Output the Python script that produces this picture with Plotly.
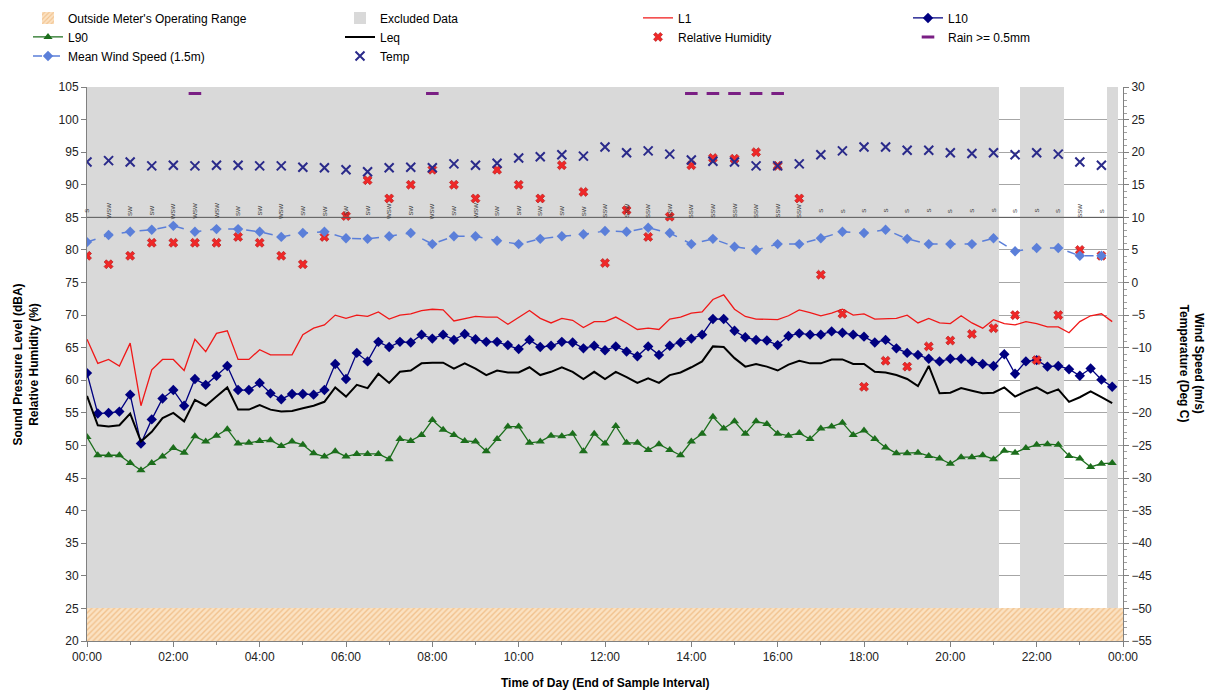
import pandas as pd
import plotly.graph_objects as go

# ---------------------------------------------------------------- data
DAY = "2024-01-01"

# 15-minute noise statistics, 00:00 .. 23:45 (dBA)
L1 = [66.3, 62.6, 63.2, 62.2, 65.7, 56.1, 61.6, 63.2, 63.2, 61.5, 66.3, 64.4,
      67.2, 67.6, 63.2, 63.2, 64.7, 63.9, 63.9, 63.9, 67.0, 68.0, 68.5, 70.0,
      69.5, 70.0, 69.8, 70.5, 69.4, 70.0, 70.2, 70.7, 70.9, 70.8, 69.1, 69.5,
      69.8, 69.7, 69.7, 68.6, 69.7, 70.7, 69.5, 68.8, 69.5, 69.2, 68.1, 69.0,
      69.0, 69.7, 68.8, 67.8, 68.0, 67.8, 69.4, 69.7, 70.3, 70.5, 72.4, 73.1,
      70.9, 69.8, 69.4, 69.3, 69.3, 69.9, 70.8, 70.4, 69.9, 70.3, 70.9, 70.0,
      70.2, 69.4, 69.4, 69.5, 70.0, 68.8, 69.5, 68.8, 68.7, 69.9, 68.8, 68.0,
      69.3, 68.7, 68.5, 69.0, 68.7, 68.2, 68.2, 67.3, 69.0, 69.9, 70.2, 69.0]

L10 = [61.1, 54.9, 55.0, 55.2, 57.8, 50.3, 54.0, 57.2, 58.5, 56.1, 60.2, 59.3,
       60.7, 62.2, 58.5, 58.5, 59.6, 58.0, 57.1, 57.9, 57.9, 57.8, 58.5, 62.5,
       60.2, 64.2, 62.9, 65.9, 65.1, 65.9, 65.8, 67.0, 66.4, 67.0, 66.2, 67.1,
       66.3, 65.9, 65.9, 65.4, 64.8, 66.2, 65.1, 65.3, 65.9, 65.8, 64.9, 65.3,
       64.6, 65.2, 64.4, 63.7, 65.2, 63.9, 65.3, 65.8, 66.4, 67.0, 69.4, 69.4,
       67.6, 66.6, 66.2, 66.1, 65.4, 66.8, 67.2, 67.0, 67.0, 67.5, 67.3, 67.0,
       66.7, 65.8, 66.2, 64.9, 64.2, 63.9, 63.3, 62.9, 63.3, 63.3, 62.9, 62.5,
       62.2, 64.0, 61.0, 62.9, 63.1, 62.1, 62.2, 61.7, 60.7, 61.8, 60.1, 59.0]

L90 = [51.3, 48.5, 48.5, 48.5, 47.3, 46.2, 47.3, 48.3, 49.6, 48.9, 51.4, 50.6,
       51.5, 52.5, 50.3, 50.4, 50.7, 50.8, 49.9, 50.6, 50.1, 48.8, 48.3, 49.1,
       48.3, 48.7, 48.7, 48.7, 47.9, 51.0, 50.7, 51.6, 53.9, 52.4, 51.6, 50.7,
       50.6, 49.1, 51.0, 52.9, 52.9, 50.4, 50.6, 51.5, 51.4, 51.8, 49.1, 51.8,
       50.3, 53.0, 50.4, 50.4, 49.3, 50.2, 49.3, 48.5, 50.6, 51.8, 54.4, 52.6,
       53.7, 51.8, 53.7, 53.3, 51.8, 51.5, 51.9, 51.0, 52.6, 52.9, 53.5, 51.6,
       52.3, 51.0, 49.7, 48.8, 48.8, 48.9, 48.4, 48.0, 47.2, 48.2, 48.2, 48.5,
       47.9, 49.2, 48.9, 49.6, 50.1, 50.2, 50.1, 48.4, 48.0, 46.7, 47.2, 47.3]

LEQ = [57.6, 53.1, 52.9, 53.1, 54.9, 50.6, 52.1, 54.2, 55.0, 53.7, 57.0, 56.1,
       57.5, 58.9, 55.5, 55.5, 56.2, 55.5, 55.2, 55.3, 55.7, 56.1, 56.7, 58.9,
       57.5, 59.3, 58.8, 61.0, 59.6, 61.3, 61.5, 62.6, 62.7, 62.7, 61.8, 62.6,
       61.8, 60.8, 61.5, 61.2, 61.2, 62.0, 60.8, 61.3, 62.0, 61.3, 60.2, 61.3,
       60.2, 61.3, 60.5, 59.6, 60.3, 59.6, 60.8, 61.2, 62.0, 62.9, 65.2, 65.1,
       63.4, 62.1, 62.5, 62.1, 61.5, 62.4, 63.0, 62.6, 62.6, 63.2, 63.2, 62.5,
       62.5, 61.3, 61.2, 60.8, 60.2, 59.1, 62.2, 58.0, 58.1, 58.8, 58.4, 58.0,
       58.1, 58.9, 57.5, 58.3, 58.9, 58.0, 58.6, 56.7, 57.4, 58.3, 57.4, 56.5]

# 30-minute weather readings, 00:00 .. 23:30
REL_HUMIDITY = [79.1, 77.8, 79.1, 81.1, 81.1, 81.1, 81.1, 82.0, 81.1, 79.1,
                77.8, 82.0, 85.2, 90.7, 87.9, 90.0, 92.3, 90.0, 87.9, 92.3,
                90.0, 87.9, 93.0, 88.9, 78.0, 86.1, 82.0, 85.1, 93.0, 94.1,
                94.0, 95.0, 92.9, 87.9, 76.2, 70.2, 59.0, 63.0, 62.1, 65.2,
                66.1, 67.1, 68.0, 70.0, 63.1, 70.0, 80.0, 79.1]          # %

WIND_SPEED = [6.2, 7.3, 7.8, 8.1, 8.7, 7.8, 8.2, 8.2, 7.8, 7.0, 7.6, 7.8,
              6.8, 6.7, 7.1, 7.6, 5.9, 7.1, 7.1, 6.4, 5.9, 6.7, 7.1, 7.4,
              7.9, 7.8, 8.4, 7.6, 5.9, 6.7, 5.5, 5.0, 5.9, 5.9, 6.8, 7.8,
              7.6, 8.1, 6.7, 5.9, 5.9, 5.9, 6.8, 4.8, 5.3, 5.3, 4.1, 4.1]  # m/s

TEMPERATURE = [18.5, 18.7, 18.5, 17.9, 18.0, 17.9, 18.0, 18.0, 17.9, 17.9,
               17.7, 17.6, 17.3, 17.0, 17.6, 17.7, 17.6, 18.2, 18.0, 18.3,
               19.1, 19.3, 19.6, 19.4, 20.8, 19.9, 20.2, 19.7, 18.8, 18.6,
               18.5, 17.9, 17.9, 18.2, 19.6, 20.2, 20.8, 20.8, 20.3, 20.3,
               19.9, 19.8, 19.9, 19.6, 19.9, 19.7, 18.5, 18.0]           # deg C

WIND_DIRECTION = ["S", "WSW", "SW", "SW", "WSW", "WSW", "WSW", "SW", "SW", "WSW",
                  "SW", "SW", "SW", "SW", "WSW", "SW", "WSW", "SW", "WSW", "SW",
                  "SW", "SW", "SW", "SW", "SSW", "SSW", "SSW", "SSW", "SSW", "SSW",
                  "SSW", "SSW", "SSW", "SSW", "S", "S", "S", "S", "S", "S",
                  "S", "S", "S", "S", "S", "S", "SSW", "S"]

RAIN_TIMES = ["02:30", "08:00", "14:00", "14:30", "15:00", "15:30", "16:00"]   # >= 0.5 mm

EXCLUDED_PERIODS = [("00:00", "21:00"), ("21:45", "22:30"), ("23:45", "23:45")]

METER_FLOOR = 25          # dBA, lower limit of the meter's operating range
AXIS_MIN, AXIS_MAX = 20, 105
RIGHT_OFFSET = 75         # right axis = left axis - 75
RAIN_LEVEL = 29           # plotting level of rain markers (right axis)
DIR_LABEL_LEVEL = 10      # plotting level of wind direction labels (right axis)

# ---------------------------------------------------------------- derived
t15 = pd.date_range(f"{DAY} 00:00", periods=len(L10), freq="15min")
t30 = pd.date_range(f"{DAY} 00:00", periods=len(WIND_SPEED), freq="30min")
rain_t = pd.to_datetime([f"{DAY} {t}" for t in RAIN_TIMES])

excluded_t = []
for start, end in EXCLUDED_PERIODS:
    excluded_t += list(pd.date_range(f"{DAY} {start}", f"{DAY} {end}", freq="15min"))

STEP_MS = 15 * 60 * 1000
DAY_START = pd.Timestamp(f"{DAY} 00:00")
DAY_END = DAY_START + pd.Timedelta(days=1)

FONT = "Arial, Liberation Sans, sans-serif"

fig = go.Figure()

# Operating range band
fig.add_trace(go.Bar(
    x=[DAY_START + (DAY_END - DAY_START) / 2], y=[METER_FLOOR - AXIS_MIN],
    base=[AXIS_MIN], width=[(DAY_END - DAY_START).total_seconds() * 1000],
    name="Outside Meter's Operating Range", legend="legend",
    marker=dict(color="#FAD9B0", line_width=0,
                pattern=dict(shape="/", fgcolor="#E8A15A", bgcolor="#FBE2C2",
                             size=4, solidity=0.35)),
    hoverinfo="skip"))

# Excluded intervals
fig.add_trace(go.Bar(
    x=excluded_t, y=[AXIS_MAX - METER_FLOOR] * len(excluded_t),
    base=[METER_FLOOR] * len(excluded_t), width=[STEP_MS * 1.02] * len(excluded_t),
    name="Excluded Data", legend="legend2",
    marker=dict(color="#D9D9D9", line_width=0)))

fig.add_trace(go.Scatter(x=t15, y=L1, name="L1", mode="lines", legend="legend3",
                         line=dict(color="#F01818", width=1.3)))
fig.add_trace(go.Scatter(x=t15, y=L10, name="L10", mode="lines+markers", legend="legend4",
                         line=dict(color="#000080", width=1.3),
                         marker=dict(symbol="diamond", size=8, color="#000080")))
fig.add_trace(go.Scatter(x=t15, y=L90, name="L90", mode="lines+markers", legend="legend",
                         line=dict(color="#1C6E1C", width=1.3),
                         marker=dict(symbol="triangle-up", size=8, color="#1C6E1C")))
fig.add_trace(go.Scatter(x=t15, y=LEQ, name="Leq", mode="lines", legend="legend2",
                         line=dict(color="#000000", width=2)))
fig.add_trace(go.Scatter(x=t30, y=REL_HUMIDITY, name="Relative Humidity", mode="markers",
                         legend="legend3",
                         marker=dict(symbol="x", size=8, color="#F02828",
                                     line=dict(width=0.6, color="#B01010"))))
fig.add_trace(go.Scatter(x=rain_t, y=[RAIN_LEVEL] * len(rain_t), name="Rain >= 0.5mm",
                         mode="markers", yaxis="y2", legend="legend4",
                         marker=dict(symbol="line-ew", size=9,
                                     line=dict(width=3, color="#7A1F84"))))
fig.add_trace(go.Scatter(x=t30, y=WIND_SPEED, name="Mean Wind Speed (1.5m)",
                         mode="lines+markers", yaxis="y2", legend="legend",
                         line=dict(color="#5B7FD9", width=1.5, dash="dash"),
                         marker=dict(symbol="diamond", size=8, color="#5B7FD9")))
fig.add_trace(go.Scatter(x=t30, y=TEMPERATURE, name="Temp", mode="markers", yaxis="y2",
                         legend="legend2",
                         marker=dict(symbol="x-thin", size=9,
                                     line=dict(width=2, color="#2A2A8A"))))

# Wind direction reference line
fig.add_trace(go.Scatter(x=[DAY_START, DAY_END], y=[DIR_LABEL_LEVEL] * 2, yaxis="y2",
                         mode="lines", line=dict(color="#555555", width=1),
                         showlegend=False, hoverinfo="skip"))

annotations = []
for t, d in zip(t30, WIND_DIRECTION):
    annotations.append(dict(x=t, y=DIR_LABEL_LEVEL + 1, xref="x", yref="y2", text=d,
                            showarrow=False, textangle=-90,
                            font=dict(family=FONT, size=6, color="#333333"),
                            xanchor="center", yanchor="middle"))

annotations += [
    dict(text="<b>Sound Pressure Level (dBA)<br>Relative Humidity (%)</b>",
         xref="paper", yref="paper", x=-0.0584, y=0.5, textangle=-90, showarrow=False,
         font=dict(family=FONT, size=12, color="#000000"), xanchor="center", yanchor="middle"),
    dict(text="<b>Wind Speed (m/s)<br>Temperature (Deg C)</b>",
         xref="paper", yref="paper", x=1.066, y=0.5, textangle=90, showarrow=False,
         font=dict(family=FONT, size=12, color="#000000"), xanchor="center", yanchor="middle"),
    dict(text="<b>Time of Day (End of Sample Interval)</b>",
         xref="paper", yref="paper", x=0.5, y=-0.0758, showarrow=False,
         font=dict(family=FONT, size=12, color="#000000"), xanchor="center", yanchor="middle"),
]


def legend_column(left_px):
    return dict(orientation="v", xref="container", yref="container",
                x=left_px / 1206, y=0.995, xanchor="left", yanchor="top",
                traceorder="normal", tracegroupgap=0, itemwidth=30,
                font=dict(family=FONT, size=12, color="#000000"),
                bgcolor="rgba(0,0,0,0)")


fig.update_layout(
    width=1206, height=693,
    margin=dict(l=87, r=83, t=87, b=52, autoexpand=False),
    paper_bgcolor="white", plot_bgcolor="white",
    font=dict(family=FONT, size=12, color="#222222"),
    barmode="overlay", bargap=0,
    showlegend=True,
    legend=legend_column(28),
    legend2=legend_column(340),
    legend3=legend_column(638),
    legend4=legend_column(908),
    xaxis=dict(type="date", range=[DAY_START, DAY_END], dtick=2 * 3600 * 1000,
               tick0=DAY_START, tickformat="%H:%M", showgrid=False,
               showline=True, linecolor="#808080", ticks="outside", ticklen=5,
               tickcolor="#808080", tickfont=dict(size=12, color="#222222"),
               minor=dict(dtick=3600 * 1000, ticks="outside", ticklen=3,
                          tickcolor="#808080"),
               zeroline=False, automargin=False),
    yaxis=dict(range=[AXIS_MIN, AXIS_MAX], dtick=5, tick0=0, showgrid=True,
               gridcolor="#A6A6A6", gridwidth=1, showline=True, linecolor="#808080",
               ticks="outside", ticklen=5, tickcolor="#808080", zeroline=False,
               tickfont=dict(size=12, color="#222222"), automargin=False),
    yaxis2=dict(range=[AXIS_MIN - RIGHT_OFFSET, AXIS_MAX - RIGHT_OFFSET], dtick=5, tick0=0,
                overlaying="y", side="right", showgrid=False, showline=True,
                linecolor="#808080", ticks="outside", ticklen=5, tickcolor="#808080",
                zeroline=False, tickfont=dict(size=12, color="#222222"),
                minor=dict(dtick=1, ticks="outside", ticklen=3, tickcolor="#A0A0A0"),
                automargin=False),
    annotations=annotations,
)

fig.write_html("out.html")
